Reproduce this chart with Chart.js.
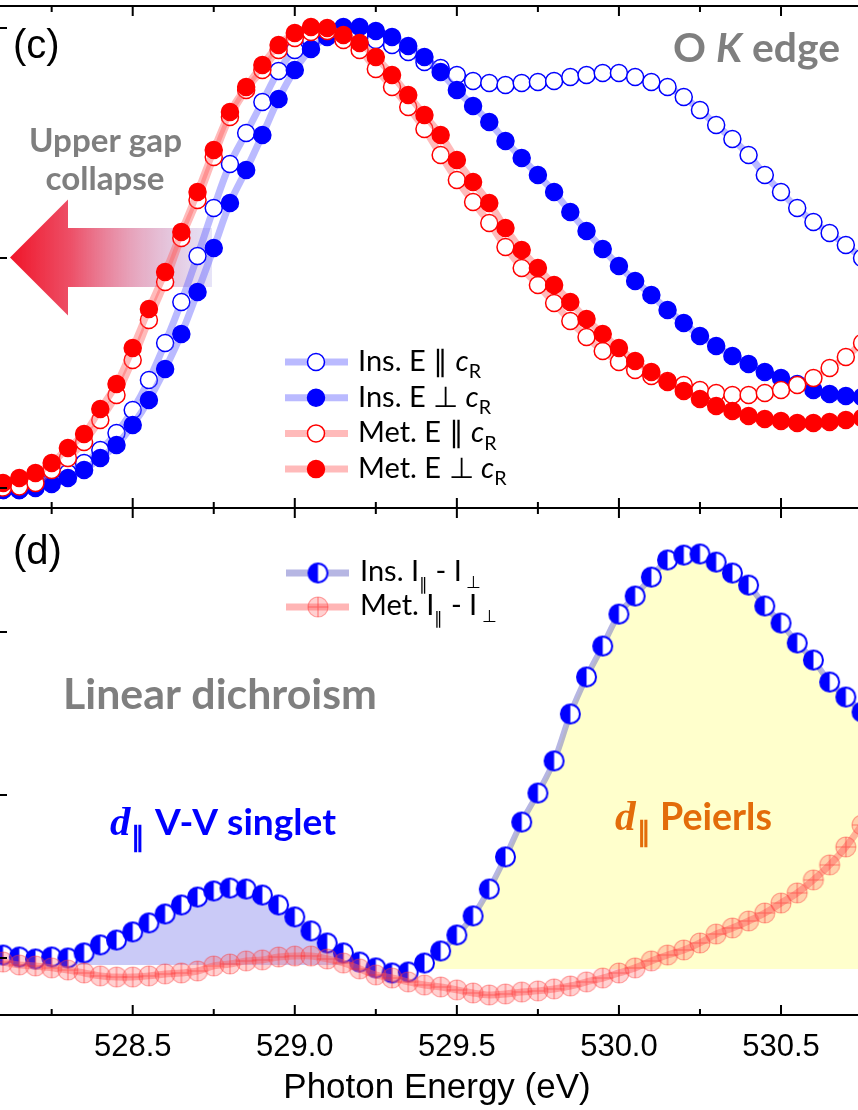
<!DOCTYPE html>
<html>
<head>
<meta charset="utf-8">
<title>O K edge XAS and linear dichroism</title>
<script src="https://cdn.jsdelivr.net/npm/chart.js@4.4.1/dist/chart.umd.min.js"></script>
<style>
  html, body { margin: 0; padding: 0; background: #fff; }
  #wrap { position: relative; width: 858px; height: 1110px; overflow: hidden; }
  #topBox { position: absolute; left: 0; top: 0; }
  #bottomBox { position: absolute; left: 0; top: 508px; }
</style>
</head>
<body>
<div id="wrap">
  <div id="topBox"><canvas id="xasChart" width="858" height="509"></canvas></div>
  <div id="bottomBox"><canvas id="dichroismChart" width="858" height="602"></canvas></div>
</div>
<script>
// Photon energy grid (eV), shared by every series
var energy = [528.10, 528.15, 528.20, 528.25, 528.30, 528.35, 528.40, 528.45, 528.50, 528.55,
              528.60, 528.65, 528.70, 528.75, 528.80, 528.85, 528.90, 528.95, 529.00, 529.05,
              529.10, 529.15, 529.20, 529.25, 529.30, 529.35, 529.40, 529.45, 529.50, 529.55,
              529.60, 529.65, 529.70, 529.75, 529.80, 529.85, 529.90, 529.95, 530.00, 530.05,
              530.10, 530.15, 530.20, 530.25, 530.30, 530.35, 530.40, 530.45, 530.50, 530.55,
              530.60, 530.65, 530.70, 530.75];

// (c) O K edge absorption, arb. units
var insPara = [0.072, 0.072, 0.088, 0.108, 0.140, 0.180, 0.232, 0.300, 0.392, 0.512,
               0.660, 0.824, 1.008, 1.200, 1.376, 1.500, 1.624, 1.748, 1.832, 1.872,
               1.900, 1.908, 1.896, 1.872, 1.852, 1.824, 1.784, 1.760, 1.732, 1.708,
               1.700, 1.692, 1.700, 1.704, 1.708, 1.724, 1.732, 1.740, 1.740, 1.724,
               1.704, 1.684, 1.644, 1.592, 1.532, 1.476, 1.412, 1.332, 1.264, 1.200,
               1.144, 1.100, 1.052, 1.000];
var insPerp = [0.072, 0.072, 0.080, 0.096, 0.120, 0.152, 0.200, 0.252, 0.332, 0.432,
               0.556, 0.696, 0.864, 1.040, 1.220, 1.352, 1.492, 1.636, 1.752, 1.836,
               1.884, 1.924, 1.924, 1.908, 1.884, 1.848, 1.804, 1.744, 1.672, 1.608,
               1.544, 1.468, 1.400, 1.332, 1.264, 1.184, 1.108, 1.036, 0.968, 0.908,
               0.852, 0.792, 0.740, 0.688, 0.648, 0.608, 0.576, 0.544, 0.520, 0.496,
               0.472, 0.456, 0.448, 0.444];
var metPara = [0.082, 0.086, 0.100, 0.152, 0.200, 0.264, 0.352, 0.452, 0.592, 0.752,
               0.904, 1.080, 1.232, 1.404, 1.564, 1.672, 1.752, 1.832, 1.880, 1.904,
               1.908, 1.872, 1.832, 1.756, 1.684, 1.604, 1.516, 1.412, 1.312, 1.224,
               1.140, 1.044, 0.960, 0.892, 0.820, 0.748, 0.684, 0.628, 0.584, 0.552,
               0.528, 0.508, 0.492, 0.472, 0.460, 0.452, 0.452, 0.460, 0.472, 0.492,
               0.520, 0.560, 0.604, 0.660];
var metPerp = [0.100, 0.120, 0.140, 0.180, 0.240, 0.296, 0.396, 0.496, 0.640, 0.796,
               0.944, 1.104, 1.264, 1.432, 1.584, 1.684, 1.772, 1.852, 1.900, 1.924,
               1.920, 1.892, 1.860, 1.804, 1.732, 1.652, 1.572, 1.492, 1.392, 1.304,
               1.220, 1.120, 1.032, 0.960, 0.892, 0.824, 0.756, 0.696, 0.640, 0.588,
               0.544, 0.504, 0.468, 0.436, 0.408, 0.388, 0.368, 0.356, 0.348, 0.340,
               0.340, 0.344, 0.352, 0.360];

// (d) linear dichroism I|| - I_perp
var insDiff = [0.0018, 0.0006, -0.0006, 0.0006, 0.0000, 0.0031, 0.0080, 0.0110, 0.0160, 0.0215,
               0.0270, 0.0325, 0.0374, 0.0411, 0.0429, 0.0423, 0.0386, 0.0325, 0.0252, 0.0166,
               0.0092, 0.0031, -0.0025, -0.0061, -0.0092, -0.0086, -0.0031, 0.0043, 0.0141, 0.0258,
               0.0423, 0.0620, 0.0834, 0.1012, 0.1209, 0.1497, 0.1724, 0.1914, 0.2110, 0.2221,
               0.2337, 0.2442, 0.2472, 0.2479, 0.2429, 0.2362, 0.2288, 0.2160, 0.2055, 0.1933,
               0.1828, 0.1693, 0.1601, 0.1509];
var metDiff = [-0.0025, -0.0043, -0.0049, -0.0061, -0.0074, -0.0092, -0.0110, -0.0117, -0.0117, -0.0110,
               -0.0098, -0.0092, -0.0080, -0.0049, -0.0037, -0.0018, -0.0012, 0.0006, 0.0012, 0.0012,
               -0.0006, -0.0031, -0.0067, -0.0104, -0.0123, -0.0147, -0.0166, -0.0178, -0.0196, -0.0215,
               -0.0227, -0.0221, -0.0209, -0.0202, -0.0190, -0.0172, -0.0147, -0.0123, -0.0092, -0.0061,
               -0.0018, 0.0018, 0.0049, 0.0092, 0.0147, 0.0184, 0.0227, 0.0276, 0.0337, 0.0399,
               0.0479, 0.0571, 0.0681, 0.0816];

// shaded regions of panel (d): energy window and floor value
var singletWindow = [528.30, 529.15];
var singletFloor = -0.0043;
var peierlsFrom = 529.40;
var peierlsFloor = -0.0067;

// axes
var xMin = 528.0906, xMax = 530.7375;
var xMajorTicks = [528.5, 529.0, 529.5, 530.0, 530.5];
var xMinorTicks = [528.25, 528.75, 529.25, 529.75, 530.25, 530.75];
var yTicksXas = [0.08, 1.0, 1.92];
var yTicksLd = [0.0, 0.1, 0.2];

var SANS = 'Lato, "Open Sans", sans-serif';
var ARIAL = '"Liberation Sans", Arial, Helvetica, sans-serif';
var SERIF = '"Liberation Serif", "Times New Roman", serif';
var GREY = '#7f7f7f';
var BLUE = '#0000ff';
var RED = '#ff0000';
var ORANGE = '#e36c0a';
var blueLine = 'rgba(90, 90, 255, 0.42)';
var redLine = 'rgba(255, 90, 90, 0.42)';
var ldBlueLine = 'rgba(110, 110, 200, 0.5)';
var ldRedLine = 'rgba(255, 90, 90, 0.45)';

function pts(values) {
    return values.map(function (v, i) { return { x: energy[i], y: v }; });
}

// Marker images for panel (d)
function halfCircle(r) {
    var c = document.createElement('canvas');
    var s = Math.ceil(2 * r + 4);
    c.width = s; c.height = s;
    var g = c.getContext('2d');
    var m = s / 2;
    g.beginPath(); g.arc(m, m, r, 0, 2 * Math.PI); g.fillStyle = '#fff'; g.fill();
    g.beginPath(); g.arc(m, m, r, Math.PI / 2, 3 * Math.PI / 2); g.closePath();
    g.fillStyle = BLUE; g.fill();
    g.beginPath(); g.arc(m, m, r, 0, 2 * Math.PI);
    g.lineWidth = 2; g.strokeStyle = BLUE; g.stroke();
    return c;
}

function crossCircle(r) {
    var c = document.createElement('canvas');
    var s = Math.ceil(2 * r + 4);
    c.width = s; c.height = s;
    var g = c.getContext('2d');
    var m = s / 2;
    g.beginPath(); g.arc(m, m, r, 0, 2 * Math.PI);
    g.fillStyle = 'rgba(255, 90, 90, 0.28)'; g.fill();
    g.lineWidth = 1.2; g.strokeStyle = 'rgba(255, 60, 60, 0.45)'; g.stroke();
    g.beginPath();
    g.moveTo(m, m - r); g.lineTo(m, m + r);
    g.moveTo(m - r, m); g.lineTo(m + r, m);
    g.strokeStyle = 'rgba(255, 40, 40, 0.5)'; g.stroke();
    return c;
}

var halfBlue = halfCircle(9.5);
var redCross = crossCircle(10);

// Rich text: parts are {t, s (style), f (family), k (size factor), dy (em offset)}
function partsWidth(ctx, parts, size) {
    var w = 0;
    parts.forEach(function (p) {
        ctx.font = (p.s || '') + ' ' + (size * (p.k || 1)) + 'px ' + (p.f || SANS);
        w += ctx.measureText(p.t).width;
    });
    return w;
}

function drawParts(ctx, x, y, parts, size, color) {
    var cx = x;
    ctx.fillStyle = color;
    ctx.textAlign = 'left';
    ctx.textBaseline = 'alphabetic';
    parts.forEach(function (p) {
        ctx.font = (p.s || '') + ' ' + (size * (p.k || 1)) + 'px ' + (p.f || SANS);
        ctx.fillText(p.t, cx, y + (p.dy || 0) * size);
        cx += ctx.measureText(p.t).width;
    });
    return cx - x;
}

function fitSize(ctx, text, style, family, width) {
    ctx.font = style + ' 100px ' + family;
    return 100 * width / ctx.measureText(text).width;
}

// "d||" followed by a bold label fitted between two x positions
function peakLabel(ctx, dx, textX, textEnd, y, text, color) {
    var size = fitSize(ctx, text, 'bold', SANS, textEnd - textX);
    ctx.fillStyle = color;
    ctx.textAlign = 'left';
    ctx.textBaseline = 'alphabetic';
    ctx.font = 'bold italic ' + (size * 1.1) + 'px ' + SERIF;
    ctx.fillText('d', dx, y);
    var dw = ctx.measureText('d').width;
    ctx.font = 'bold ' + (size * 0.72) + 'px ' + SANS;
    ctx.fillText('\u2225', dx + dw + 1, y + size * 0.3);
    ctx.font = 'bold ' + size + 'px ' + SANS;
    ctx.fillText(text, textX, y);
}

// Frame with inward ticks, shared by both panels
var framePlugin = {
    id: 'frame',
    afterDatasetsDraw: function (chart, args, opts) {
        var ctx = chart.ctx, ca = chart.chartArea;
        var xs = chart.scales.x, ys = chart.scales.y;
        ctx.save();
        ctx.strokeStyle = '#000';
        ctx.lineWidth = 2;
        ctx.beginPath();
        [[ca.top, 1], [ca.bottom, -1]].forEach(function (side) {
            var y = side[0], dir = side[1];
            ctx.moveTo(ca.left, y); ctx.lineTo(ca.right, y);
            xMajorTicks.forEach(function (v) {
                var px = xs.getPixelForValue(v);
                ctx.moveTo(px, y); ctx.lineTo(px, y + dir * 10);
            });
            xMinorTicks.forEach(function (v) {
                var px = xs.getPixelForValue(v);
                ctx.moveTo(px, y); ctx.lineTo(px, y + dir * 6);
            });
        });
        opts.yTicks.forEach(function (v) {
            var py = ys.getPixelForValue(v);
            ctx.moveTo(ca.left, py); ctx.lineTo(ca.left + 7, py);
        });
        ctx.stroke();
        ctx.restore();
    }
};

// Panel (c) legend entries
var xasLegend = [
    { parts: [{ t: 'Ins. E \u2225 ' }, { t: 'c', s: 'italic' }, { t: 'R', k: 0.68, dy: 0.25 }], color: BLUE, filled: false, line: blueLine },
    { parts: [{ t: 'Ins. E \u22A5 ' }, { t: 'c', s: 'italic' }, { t: 'R', k: 0.68, dy: 0.25 }], color: BLUE, filled: true, line: blueLine },
    { parts: [{ t: 'Met. E \u2225 ' }, { t: 'c', s: 'italic' }, { t: 'R', k: 0.68, dy: 0.25 }], color: RED, filled: false, line: redLine },
    { parts: [{ t: 'Met. E \u22A5 ' }, { t: 'c', s: 'italic' }, { t: 'R', k: 0.68, dy: 0.25 }], color: RED, filled: true, line: redLine }
];

var xasNotes = {
    id: 'xasNotes',
    beforeDatasetsDraw: function (chart) {
        // "upper gap collapse" arrow
        var ctx = chart.ctx;
        var cy = 257.5;
        var grad = ctx.createLinearGradient(10, 0, 212, 0);
        grad.addColorStop(0, 'rgba(240, 20, 40, 1)');
        grad.addColorStop(0.3, 'rgba(236, 70, 95, 0.95)');
        grad.addColorStop(0.6, 'rgba(225, 140, 170, 0.8)');
        grad.addColorStop(1, 'rgba(205, 200, 240, 0.5)');
        ctx.save();
        ctx.fillStyle = grad;
        ctx.beginPath();
        ctx.moveTo(10, cy);
        ctx.lineTo(68, cy - 58);
        ctx.lineTo(68, cy - 29.5);
        ctx.lineTo(212, cy - 29.5);
        ctx.lineTo(212, cy + 29.5);
        ctx.lineTo(68, cy + 29.5);
        ctx.lineTo(68, cy + 58);
        ctx.closePath();
        ctx.fill();
        ctx.restore();
    },
    afterDatasetsDraw: function (chart) {
        var ctx = chart.ctx;
        ctx.save();
        ctx.fillStyle = '#000';
        ctx.textBaseline = 'alphabetic';
        ctx.font = '40px ' + ARIAL;
        ctx.fillText('(c)', 13, 58);

        // O K edge
        var edgeParts = [{ t: 'O ', s: 'bold' }, { t: 'K', s: 'italic bold' }, { t: ' edge', s: 'bold' }];
        var edgeSize = 36 * 167 / partsWidth(ctx, edgeParts, 36);
        drawParts(ctx, 840 - partsWidth(ctx, edgeParts, edgeSize), 62, edgeParts, edgeSize, GREY);

        // Upper gap collapse
        var gapSize = fitSize(ctx, 'Upper gap', 'bold', SANS, 153);
        ctx.font = 'bold ' + gapSize + 'px ' + SANS;
        ctx.fillStyle = GREY;
        ctx.textAlign = 'center';
        ctx.fillText('Upper gap', 105.5, 152);
        ctx.fillText('collapse', 105, 190);

        // legend
        xasLegend.forEach(function (item, i) {
            var y = 362 + i * 35.7;
            ctx.beginPath();
            ctx.moveTo(285, y); ctx.lineTo(348, y);
            ctx.lineWidth = 7; ctx.strokeStyle = item.line; ctx.stroke();
            ctx.beginPath();
            ctx.arc(316, y, 8.5, 0, 2 * Math.PI);
            ctx.fillStyle = item.filled ? item.color : '#fff';
            ctx.fill();
            ctx.lineWidth = 1.5; ctx.strokeStyle = item.color; ctx.stroke();
            drawParts(ctx, 358, y + 9, item.parts, 29, '#000');
        });
        ctx.restore();
    }
};

// Panel (d) legend entries
var ldLegend = [
    { parts: [{ t: 'Ins. I' }, { t: '\u2225', k: 0.6, dy: 0.3 }, { t: ' - I' }, { t: ' \u22A5', k: 0.6, dy: 0.25 }], marker: halfBlue, line: ldBlueLine },
    { parts: [{ t: 'Met. I' }, { t: '\u2225', k: 0.6, dy: 0.3 }, { t: ' - I' }, { t: ' \u22A5', k: 0.6, dy: 0.25 }], marker: redCross, line: ldRedLine }
];

var ldNotes = {
    id: 'ldNotes',
    afterDatasetsDraw: function (chart) {
        var ctx = chart.ctx;
        ctx.save();
        ctx.fillStyle = '#000';
        ctx.textBaseline = 'alphabetic';
        ctx.font = '40px ' + ARIAL;
        ctx.fillText('(d)', 13, 56);

        // legend
        ldLegend.forEach(function (item, i) {
            var y = 65 + i * 34;
            ctx.beginPath();
            ctx.moveTo(286, y); ctx.lineTo(349, y);
            ctx.lineWidth = 7; ctx.strokeStyle = item.line; ctx.stroke();
            ctx.drawImage(item.marker, 318 - item.marker.width / 2, y - item.marker.height / 2);
            drawParts(ctx, 360, y + 8, item.parts, 29, '#000');
        });

        // Linear dichroism
        var ldSize = fitSize(ctx, 'Linear dichroism', 'bold', SANS, 314);
        ctx.font = 'bold ' + ldSize + 'px ' + SANS;
        ctx.fillStyle = GREY;
        ctx.textAlign = 'left';
        ctx.fillText('Linear dichroism', 63, 201);

        // peak labels
        peakLabel(ctx, 110, 155, 336, 327, 'V-V singlet', BLUE);
        peakLabel(ctx, 615, 660, 772, 322, 'Peierls', ORANGE);

        // axis title
        ctx.font = '35px ' + ARIAL;
        ctx.fillStyle = '#000';
        ctx.textAlign = 'center';
        ctx.fillText('Photon Energy (eV)', 437, 590);
        ctx.restore();
    }
};

function xasSeries(label, values, color, filled, line, order) {
    return {
        label: label,
        data: pts(values),
        borderColor: line,
        borderWidth: 7,
        pointRadius: 8.5,
        pointBorderWidth: 1.5,
        pointBorderColor: color,
        pointBackgroundColor: filled ? color : '#ffffff',
        tension: 0.35,
        fill: false,
        order: order
    };
}

Chart.defaults.font.family = ARIAL;

// O K edge chart
var xasChart = new Chart(document.getElementById('xasChart').getContext('2d'), {
    type: 'line',
    data: {
        datasets: [
            xasSeries('Met. E \u22A5 cR', metPerp, RED, true, redLine, 1),
            xasSeries('Met. E \u2225 cR', metPara, RED, false, redLine, 2),
            xasSeries('Ins. E \u22A5 cR', insPerp, BLUE, true, blueLine, 3),
            xasSeries('Ins. E \u2225 cR', insPara, BLUE, false, blueLine, 4)
        ]
    },
    options: {
        responsive: false,
        animation: false,
        events: [],
        layout: { autoPadding: false, padding: { top: 6, bottom: 1, left: 0, right: 0 } },
        scales: {
            x: { type: 'linear', min: xMin, max: xMax, display: false },
            y: { min: 0, max: 2.008, display: false }
        },
        plugins: {
            legend: { display: false },
            tooltip: { enabled: false },
            frame: { yTicks: yTicksXas }
        }
    },
    plugins: [xasNotes, framePlugin]
});

// Linear dichroism chart
var singletPts = pts(insDiff).filter(function (p) { return p.x >= singletWindow[0] - 1e-6 && p.x <= singletWindow[1] + 1e-6; });
var peierlsPts = pts(insDiff).filter(function (p) { return p.x >= peierlsFrom - 1e-6; });

var ldChart = new Chart(document.getElementById('dichroismChart').getContext('2d'), {
    type: 'line',
    data: {
        datasets: [
            {
                label: 'Met. I\u2225 - I\u22A5',
                data: pts(metDiff),
                borderColor: ldRedLine,
                borderWidth: 7,
                pointStyle: redCross,
                pointRadius: 10,
                tension: 0.35,
                fill: false,
                order: 1
            },
            {
                label: 'Ins. I\u2225 - I\u22A5',
                data: pts(insDiff),
                borderColor: ldBlueLine,
                borderWidth: 6,
                pointStyle: halfBlue,
                pointRadius: 10,
                tension: 0.35,
                fill: false,
                order: 2
            },
            {
                label: 'singlet area',
                data: singletPts,
                borderWidth: 0,
                pointRadius: 0,
                tension: 0.35,
                backgroundColor: 'rgba(150, 150, 240, 0.5)',
                fill: { value: singletFloor },
                order: 3
            },
            {
                label: 'Peierls area',
                data: peierlsPts,
                borderWidth: 0,
                pointRadius: 0,
                tension: 0.35,
                backgroundColor: '#ffffcc',
                fill: { value: peierlsFloor },
                order: 4
            }
        ]
    },
    options: {
        responsive: false,
        animation: false,
        events: [],
        layout: { autoPadding: false, padding: 0 },
        scales: {
            x: {
                type: 'linear',
                min: xMin,
                max: xMax,
                grid: { display: false, drawTicks: false },
                border: { display: false },
                afterBuildTicks: function (axis) {
                    axis.ticks = xMajorTicks.map(function (v) { return { value: v }; });
                },
                afterFit: function (axis) { axis.height = 95; },
                ticks: {
                    color: '#000',
                    font: { family: ARIAL, size: 31 },
                    padding: 14,
                    maxRotation: 0,
                    autoSkip: false,
                    callback: function (value) { return Number(value).toFixed(1); }
                }
            },
            y: { min: -0.035, max: 0.2761, display: false }
        },
        plugins: {
            legend: { display: false },
            tooltip: { enabled: false },
            frame: { yTicks: yTicksLd }
        }
    },
    plugins: [ldNotes, framePlugin]
});
</script>
</body>
</html>
